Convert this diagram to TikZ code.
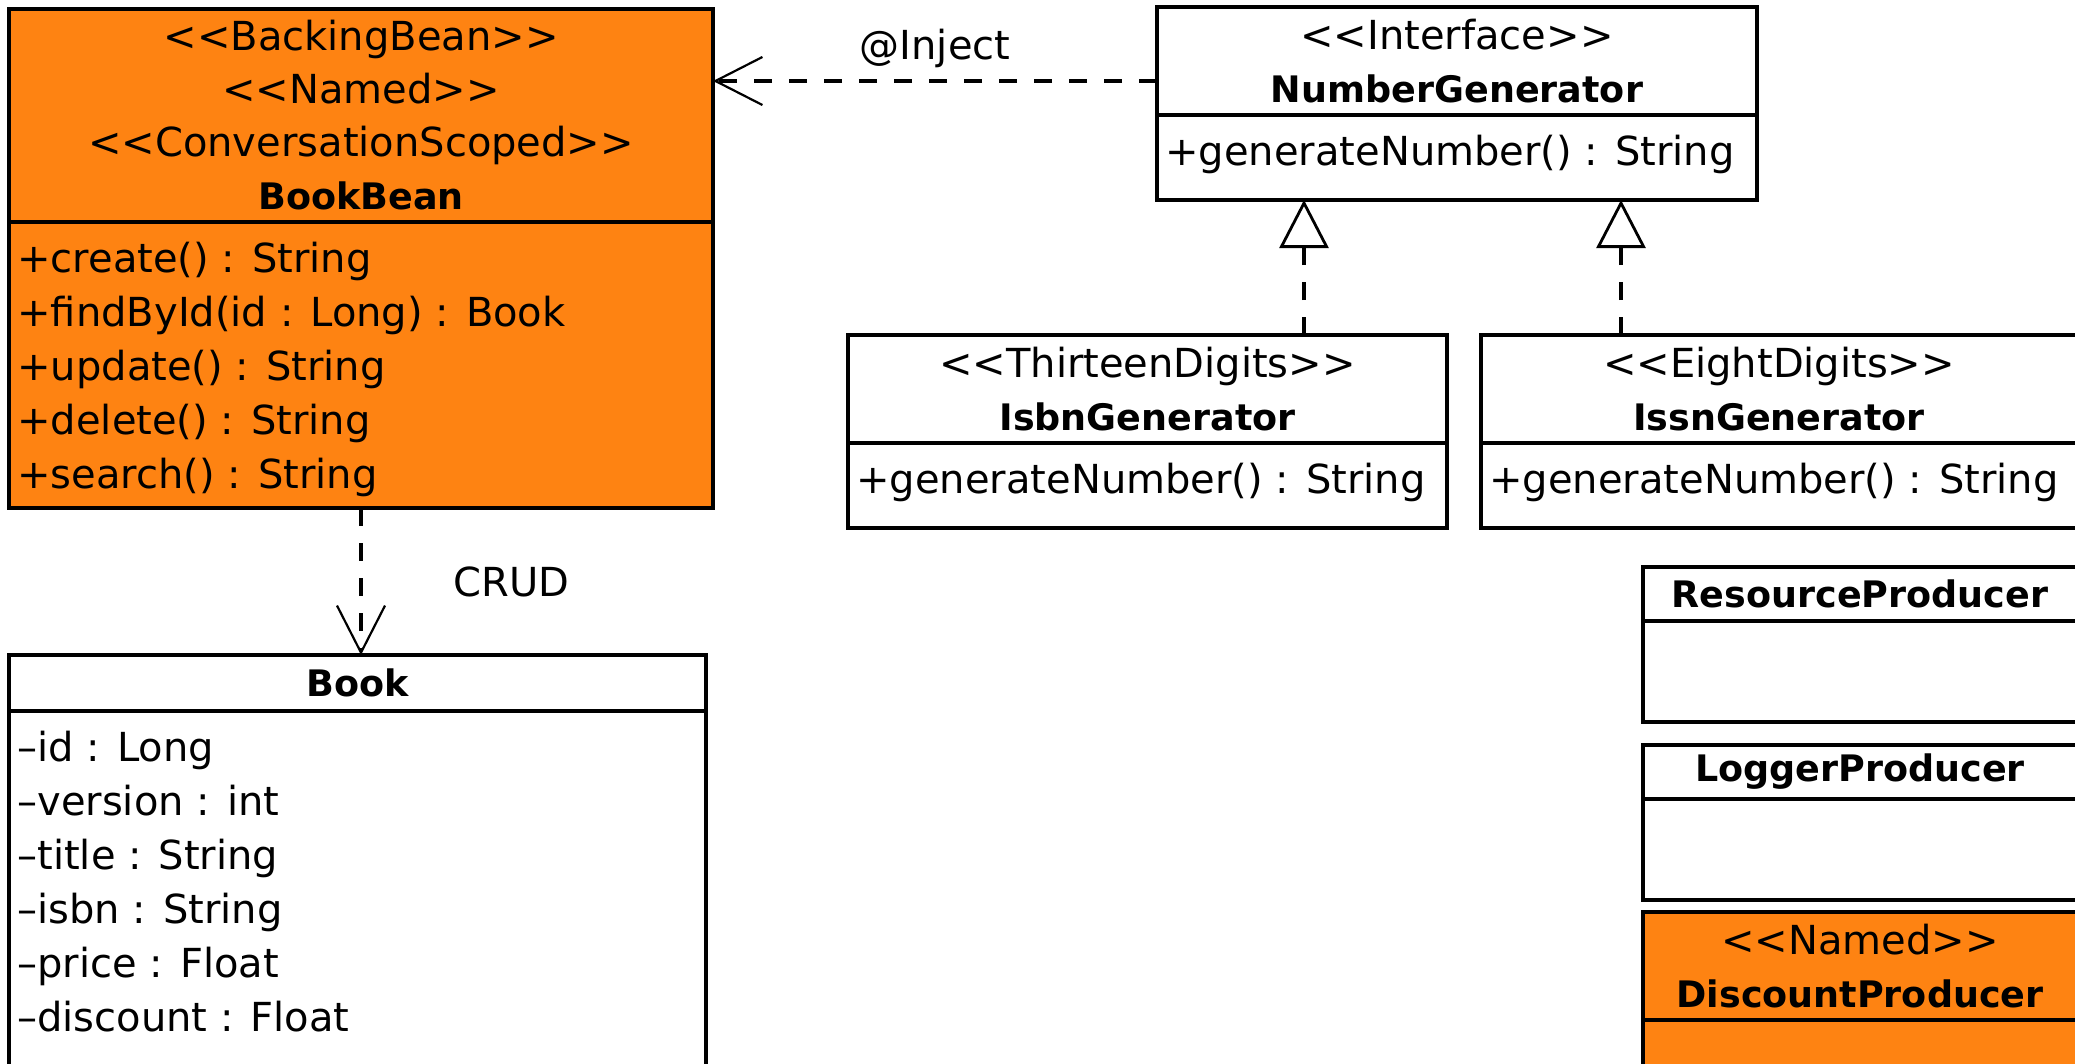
\documentclass[tikz,border=0pt]{standalone}
\usepackage{fontspec}
\setmainfont{DejaVu Sans}
\usepackage{tikz}
\usetikzlibrary{positioning,arrows.meta}
\definecolor{beanorange}{RGB}{254,131,18}

\newcommand{\umlfont}{\fontsize{20pt}{26.5pt}\selectfont}
\newcommand{\memberfont}{\fontsize{20pt}{27pt}\selectfont}
\newcommand{\umltitle}[1]{{\fontsize{18.25pt}{26.5pt}\selectfont\bfseries #1}}
% keep the angle brackets apart so they do not turn into guillemets
\newcommand{\stereo}[1]{<{}<#1>{}>}

\tikzset{
  classhead/.style={draw,line width=1.7pt,outer sep=0pt,inner sep=0pt,
                    anchor=north west,align=center,font=\umlfont},
  classbody/.style={draw,line width=1.7pt,outer sep=0pt,inner sep=0pt},
  members/.style={anchor=north west,align=left,inner xsep=4pt,inner ysep=10pt,
                  font=\memberfont},
  bean/.style={fill=beanorange},
  dep/.style={line width=1.7pt,dash pattern=on 9pt off 8.5pt,
              -{Straight Barb[length=23.5pt,width=24pt,line width=1.1pt]}},
  realize/.style={line width=1.7pt,dash pattern=on 9pt off 8.5pt,
                  -{Triangle[open,length=24pt,width=24.5pt,line width=1.4pt]}},
  tag/.style={font=\umlfont}
}

\begin{document}
\begin{tikzpicture}[x=0.5pt,y=-0.5pt]
  \useasboundingbox (0,0) rectangle (2075,1064);

  % backing bean
  \node[classhead,bean,minimum width=352pt,minimum height=106.5pt] (bbhead) at (9,9)
    {\stereo{BackingBean}\\\stereo{Named}\\\stereo{ConversationScoped}\\\umltitle{BookBean}};
  \node[classbody,bean,minimum width=352pt,minimum height=143pt,below=0pt of bbhead] (bbbody) {};
  \node[members] (bbops) at (bbbody.north west)
    {+create() : String\\+findById(id : Long) : Book\\+update() : String\\+delete() : String\\+search() : String};

  % entity
  \node[classhead,minimum width=348.5pt,minimum height=28pt] (bookhead) at (9,655) {\umltitle{Book}};
  \node[classbody,minimum width=348.5pt,minimum height=200pt,below=0pt of bookhead] (bookbody) {};
  \node[members] (bookattrs) at (bookbody.north west)
    {--id : Long\\--version : int\\--title : String\\--isbn : String\\--price : Float\\--discount : Float};

  % generators
  \node[classhead,minimum width=300pt,minimum height=54pt] (nghead) at (1157,7)
    {\stereo{Interface}\\\umltitle{NumberGenerator}};
  \node[classbody,minimum width=300pt,minimum height=42.5pt,below=0pt of nghead] (ngbody) {};
  \node[members] (ngops) at (ngbody.north west) {+generateNumber() : String};

  \node[classhead,minimum width=299.5pt,minimum height=54pt] (isbnhead) at (848,335)
    {\stereo{ThirteenDigits}\\\umltitle{IsbnGenerator}};
  \node[classbody,minimum width=299.5pt,minimum height=42.5pt,below=0pt of isbnhead] (isbnbody) {};
  \node[members] (isbnops) at (isbnbody.north west) {+generateNumber() : String};

  \node[classhead,minimum width=298pt,minimum height=54pt] (issnhead) at (1481,335)
    {\stereo{EightDigits}\\\umltitle{IssnGenerator}};
  \node[classbody,minimum width=298pt,minimum height=42.5pt,below=0pt of issnhead] (issnbody) {};
  \node[members] (issnops) at (issnbody.north west) {+generateNumber() : String};

  % producers
  \node[classhead,minimum width=217pt,minimum height=27pt] (rphead) at (1643,567)
    {\umltitle{ResourceProducer}};
  \node[classbody,minimum width=217pt,minimum height=50.5pt,below=0pt of rphead] (rpbody) {};
  \node[classhead,minimum width=217pt,minimum height=27pt,below=11.5pt of rpbody] (lphead)
    {\umltitle{LoggerProducer}};
  \node[classbody,minimum width=217pt,minimum height=50.5pt,below=0pt of lphead] (lpbody) {};
  \node[classhead,bean,minimum width=217pt,minimum height=54pt,below=6pt of lpbody] (dphead)
    {\stereo{Named}\\\umltitle{DiscountProducer}};
  \node[classbody,bean,minimum width=217pt,minimum height=30pt,below=0pt of dphead] (dpbody) {};

  % relations
  \coordinate (injsrc) at ([yshift=-10pt]nghead.west);
  \draw[dep] (injsrc) -- (injsrc -| bbhead.east)
    node[tag,midway,anchor=base,yshift=10.5pt] (injlabel) {@Inject};
  \draw[dep] (bbbody.south) -- (bbbody.south |- bookhead.north)
    node[tag,midway,right=42pt] (crudlabel) {CRUD};

  \coordinate (isbnup) at ([xshift=78.25pt]isbnhead.north);
  \coordinate (issnup) at ([xshift=-79pt]issnhead.north);
  \draw[realize] (isbnup) -- (isbnup |- ngbody.south);
  \draw[realize] (issnup) -- (issnup |- ngbody.south);
\end{tikzpicture}
\end{document}
